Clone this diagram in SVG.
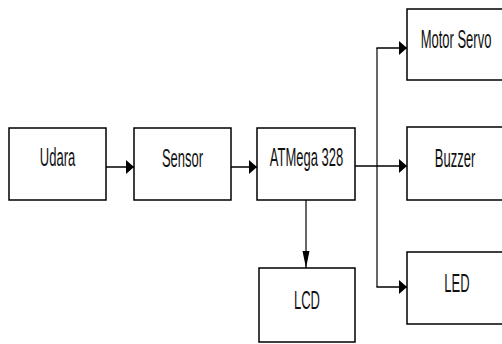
<svg xmlns="http://www.w3.org/2000/svg" width="502" height="344" viewBox="0 0 502 344">
  <style>
    .box { fill: #ffffff; stroke: #000000; stroke-width: 1.5; }
    .lbl { font-family: "Liberation Sans", Arial, sans-serif; font-size: 13px; fill: #111111; text-anchor: middle; }
    .ln { fill: none; stroke: #000000; stroke-width: 1.5; }
    .lv { fill: none; stroke: #000000; stroke-width: 1.2; }
  </style>
  <defs>
    <marker id="ah" markerUnits="userSpaceOnUse" markerWidth="10" markerHeight="16" refX="9" refY="7" orient="auto">
      <path d="M1,0 L9,7 L1,14 z" fill="#000000"/>
    </marker>
    <marker id="av" markerUnits="userSpaceOnUse" markerWidth="18" markerHeight="8" refX="17" refY="3.5" orient="auto">
      <path d="M0,0 L17,3.5 L0,7 z" fill="#000000"/>
    </marker>
  </defs>
  <rect width="502" height="344" fill="#ffffff"/>

  <g id="connectors">
    <line class="ln" x1="106" y1="167" x2="134" y2="167" marker-end="url(#ah)"/>
    <line class="ln" x1="231" y1="167" x2="257" y2="167" marker-end="url(#ah)"/>
    <line class="ln" x1="355" y1="166" x2="407" y2="166" marker-end="url(#ah)"/>
    <line class="lv" x1="377" y1="48" x2="377" y2="287"/>
    <line class="ln" x1="376.4" y1="48" x2="407" y2="48" marker-end="url(#ah)"/>
    <line class="ln" x1="376.4" y1="287" x2="407" y2="287" marker-end="url(#ah)"/>
    <line class="lv" x1="306" y1="200" x2="306" y2="268" marker-end="url(#av)"/>
  </g>

  <g id="udara">
    <rect class="box" x="9" y="128" width="97" height="72"/>
    <text class="lbl" transform="translate(57.5,165.5) scale(1,1.95)">Udara</text>
  </g>
  <g id="sensor">
    <rect class="box" x="134" y="128" width="97" height="72"/>
    <text class="lbl" transform="translate(182.5,166.5) scale(1,1.95)">Sensor</text>
  </g>
  <g id="atmega">
    <rect class="box" x="257" y="128" width="98" height="72"/>
    <text class="lbl" transform="translate(306.5,166) scale(1,1.95)">ATMega 328</text>
  </g>
  <g id="motor-servo">
    <rect class="box" x="407" y="9" width="100" height="71"/>
    <text class="lbl" transform="translate(456,48) scale(1,1.95)">Motor Servo</text>
  </g>
  <g id="buzzer">
    <rect class="box" x="407" y="127" width="100" height="73"/>
    <text class="lbl" transform="translate(455,166.5) scale(1,1.95)">Buzzer</text>
  </g>
  <g id="led">
    <rect class="box" x="407" y="252" width="100" height="72"/>
    <text class="lbl" transform="translate(457,292) scale(1,1.95)">LED</text>
  </g>
  <g id="lcd">
    <rect class="box" x="259" y="268" width="96" height="74"/>
    <text class="lbl" transform="translate(307,309) scale(1,1.95)">LCD</text>
  </g>
</svg>
